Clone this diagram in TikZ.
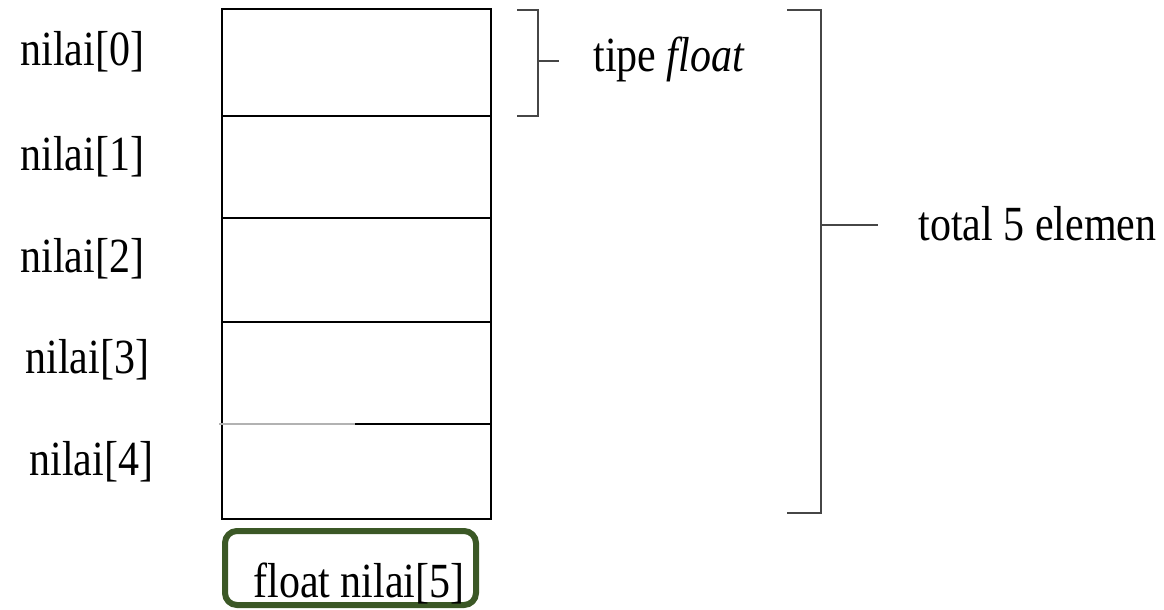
\documentclass[tikz,border=0pt]{standalone}
\usepackage{fontspec}
\usepackage{graphicx}
\setmainfont{Liberation Serif}
\definecolor{boxgreen}{RGB}{59,88,38}
\definecolor{brackgray}{RGB}{70,70,70}
% glyphs set a little taller than wide
\newcommand{\tallText}[1]{\scalebox{1}[1.17]{#1}}
\begin{document}
\begin{tikzpicture}[x=0.5pt,y=-0.5pt,
  lbl/.style={anchor=base west,inner sep=0pt,font=\fontsize{21}{25}\selectfont},
  cellline/.style={line width=1pt,black},
  brack/.style={line width=1.3pt,brackgray},
  declbox/.style={draw=boxgreen,line width=3pt,rounded corners=6pt}]
\useasboundingbox (0,0) rectangle (1164,610);

% array cells
\coordinate (tl) at (222,9);
\coordinate (br) at (491,519);
\draw[cellline] (tl) rectangle (br);
\draw[cellline] (222,116) -- (491,116);
\draw[cellline] (222,218) -- (491,218);
\draw[cellline] (222,322) -- (491,322);
\draw[cellline,gray!60] (219,424) -- (355,424);
\draw[cellline] (355,424) -- (491,424);

% element labels
\node[lbl] (n0) at (20,66)  {\tallText{nilai[0]}};
\node[lbl] (n1) at (20,171) {\tallText{nilai[1]}};
\node[lbl] (n2) at (20,272) {\tallText{nilai[2]}};
\node[lbl] (n3) at (25,373) {\tallText{nilai[3]}};
\node[lbl] (n4) at (29,475) {\tallText{nilai[4]}};

% bracket for one element
\coordinate (sb1) at (517,10);
\coordinate (sb2) at (538,10);
\coordinate (sb3) at (538,116);
\coordinate (sb4) at (517,116);
\coordinate (sbm) at (538,61);
\coordinate (sbt) at (559,61);
\draw[brack] (sb1) -- (sb2) -- (sb3) -- (sb4);
\draw[brack,line width=1pt] (sbm) -- (sbt);
\node[lbl] (tipe) at (593,72) {\tallText{tipe \textit{float}}};

% bracket for the whole array
\coordinate (bb1) at (787,10);
\coordinate (bb2) at (821,10);
\coordinate (bb3) at (821,513);
\coordinate (bb4) at (787,513);
\coordinate (bbm) at (821,225);
\coordinate (bbt) at (878,225);
\draw[brack] (bb1) -- (bb2) -- (bb3) -- (bb4);
\draw[brack,line width=1pt] (bbm) -- (bbt);
\node[lbl] (total) at (918,241) {\tallText{total 5 elemen}};

% declaration
\draw[declbox] (225,531) rectangle (476,605);
\node[lbl] (decl) at (253,597) {\tallText{float nilai[5]}};
\end{tikzpicture}
\end{document}
